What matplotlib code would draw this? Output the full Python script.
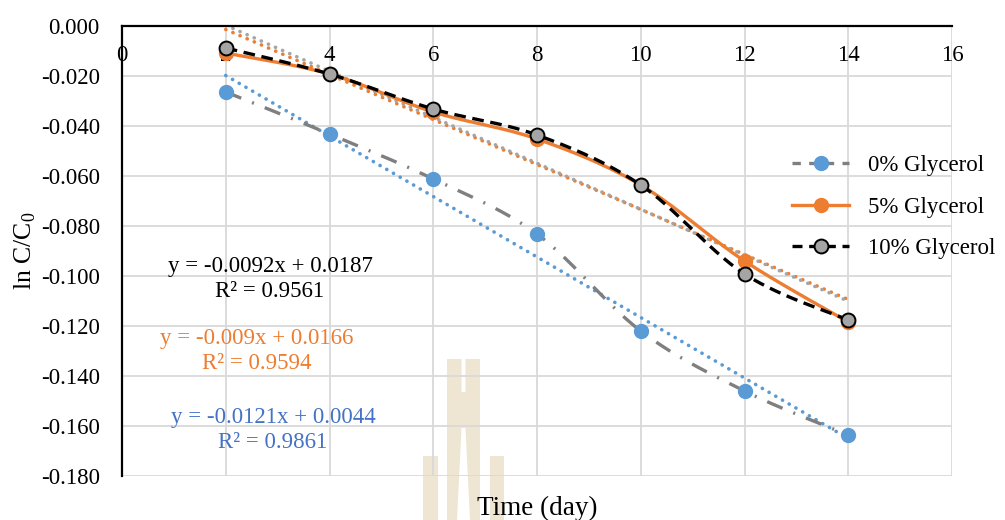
import numpy as np
import matplotlib
matplotlib.use("Agg")
import matplotlib.pyplot as plt
from matplotlib.ticker import FormatStrFormatter, MultipleLocator
from matplotlib.patches import Polygon

plt.rcParams['font.family'] = ['Liberation Serif', 'DejaVu Serif']
plt.rcParams['mathtext.fontset'] = 'custom'
plt.rcParams['mathtext.rm'] = 'Liberation Serif'
plt.rcParams['axes.unicode_minus'] = False

# ---- data ----
days = [2, 4, 6, 8, 10, 12, 14]
glycerol_0 = [-0.0264, -0.0432, -0.0612, -0.0832, -0.1220, -0.1460, -0.1636]
glycerol_5 = [-0.0108, -0.0192, -0.0344, -0.0452, -0.0636, -0.0940, -0.1184]
glycerol_10 = [-0.0088, -0.0192, -0.0332, -0.0436, -0.0636, -0.0992, -0.1176]

series_labels = ["0% Glycerol", "5% Glycerol", "10% Glycerol"]
trend_slopes = [-0.0121, -0.009, -0.0092]
trend_intercepts = [0.0044, 0.0166, 0.0187]
trend_r2 = [0.9861, 0.9594, 0.9561]
trend_texts = ["y = -0.0121x + 0.0044", "y = -0.009x + 0.0166", "y = -0.0092x + 0.0187"]

BLUE = '#5B9BD5'
ORANGE = '#ED7D31'
GRAY = '#A5A5A5'
DGRAY = '#7F7F7F'
TEXT_BLUE = '#4472C4'
FS = 16.5


def smooth_curve(x, y, n=30):
    """Cubic Bezier smoothing through every point (spreadsheet-style)."""
    p = np.column_stack([x, y]).astype(float)
    out = [p[0]]
    for i in range(len(p) - 1):
        p0 = p[i - 1] if i > 0 else p[i]
        p1, p2 = p[i], p[i + 1]
        p3 = p[i + 2] if i + 2 < len(p) else p[i + 1]
        c1 = p1 + (p2 - p0) / 6.0
        c2 = p2 - (p3 - p1) / 6.0
        t = np.linspace(0, 1, n)[1:, None]
        seg = ((1 - t) ** 3) * p1 + 3 * ((1 - t) ** 2) * t * c1 + 3 * (1 - t) * t ** 2 * c2 + t ** 3 * p2
        out.extend(seg)
    out = np.array(out)
    return out[:, 0], out[:, 1]


W, H = 1005, 520
fig = plt.figure(figsize=(W / 100, H / 100), dpi=100)
ax = fig.add_axes([122 / W, 1 - 476 / H, (952 - 122) / W, (476 - 26) / H])
ax.set_facecolor('none')


def px(x, y):
    return (x / W, 1 - y / H)


# faint emblem behind the plot
wm = '#EEE5D3'
shapes = [
    [(423, 456), (438, 456), (438, 520), (423, 520)],
    [(490, 456), (504, 456), (504, 520), (490, 520)],
    [(447, 359), (461.5, 359), (461.5, 392), (465.5, 392), (465.5, 359), (480, 359),
     (480, 520), (470, 520), (465.5, 428), (461.5, 428), (457, 520), (447, 520)],
]
for s in shapes:
    fig.patches.append(Polygon([px(*q) for q in s], closed=True, transform=fig.transFigure,
                               facecolor=wm, edgecolor='none', zorder=-5))

ax.set_xlim(0, 16)
ax.set_ylim(-0.18, 0.0)
ax.xaxis.set_major_locator(MultipleLocator(2))
ax.yaxis.set_major_locator(MultipleLocator(0.02))
ax.yaxis.set_major_formatter(FormatStrFormatter('%.3f'))
ax.grid(True, color='#D9D9D9', linewidth=1.3, zorder=0)
ax.set_axisbelow(True)

for side in ['bottom', 'right']:
    ax.spines[side].set_visible(False)
for side in ['top', 'left']:
    ax.spines[side].set_color('black')
    ax.spines[side].set_linewidth(1.6)

ax.xaxis.tick_top()
ax.tick_params(axis='x', length=0, pad=-29, labelsize=FS)
ax.tick_params(axis='y', length=0, pad=16, labelsize=FS)

# trend lines
trend_colors = [BLUE, ORANGE, GRAY]
tx = np.array([days[0], days[-1]], dtype=float)
for m, b, c in zip(trend_slopes, trend_intercepts, trend_colors):
    ax.plot(tx, m * tx + b, color=c, linewidth=2.6, linestyle=(0, (0.05, 2.1)),
            dash_capstyle='round', zorder=2)

# series
sx, sy = smooth_curve(days, glycerol_0)
ax.plot(sx, sy, color=DGRAY, linewidth=2.4, linestyle=(0, (5, 3.5, 0.6, 3.5)), zorder=3)
ax.plot(days, glycerol_0, linestyle='none', marker='o', markersize=10,
        markerfacecolor=BLUE, markeredgecolor=BLUE, zorder=4)

sx, sy = smooth_curve(days, glycerol_5)
ax.plot(sx, sy, color=ORANGE, linewidth=2.4, zorder=3)
ax.plot(days, glycerol_5, linestyle='none', marker='o', markersize=10,
        markerfacecolor=ORANGE, markeredgecolor=ORANGE, zorder=4)

sx, sy = smooth_curve(days, glycerol_10)
ax.plot(sx, sy, color='black', linewidth=2.4, linestyle=(0, (3.5, 2)), zorder=5)
ax.plot(days, glycerol_10, linestyle='none', marker='o', markersize=10,
        markerfacecolor=GRAY, markeredgecolor='black', markeredgewidth=1.4, zorder=6)

# legend handles
h0, = ax.plot([], [], color=DGRAY, linewidth=2.4, linestyle=(0, (2.5, 2.5)),
              marker='o', markersize=10, markerfacecolor=BLUE, markeredgecolor=BLUE)
h1, = ax.plot([], [], color=ORANGE, linewidth=2.4,
              marker='o', markersize=10, markerfacecolor=ORANGE, markeredgecolor=ORANGE)
h2, = ax.plot([], [], color='black', linewidth=2.4, linestyle=(0, (3, 2)),
              marker='o', markersize=10, markerfacecolor=GRAY, markeredgecolor='black',
              markeredgewidth=1.4)
leg = fig.legend([h0, h1, h2], series_labels, loc='upper left',
                 bbox_to_anchor=px(792, 155), frameon=False, fontsize=FS,
                 handlelength=2.5, handletextpad=0.8, labelspacing=0.9,
                 borderpad=0, borderaxespad=0)

# trend-line equations
eq_colors = [TEXT_BLUE, ORANGE, 'black']
eq_pos = [(273, 430), (257, 351), (270, 279)]
for t, r2, c, (x0, y0) in zip(trend_texts, trend_r2, eq_colors, eq_pos):
    fig.text(*px(x0, y0), f"{t}\nR² = {r2:.4f}", color=c, fontsize=FS,
             ha='center', va='center', multialignment='center', linespacing=1.25)

ax.set_ylabel('ln C/C$_0$', fontsize=18.5, labelpad=2)
ax.xaxis.set_label_position('bottom')
ax.set_xlabel('Time (day)', fontsize=19.5, labelpad=14)

fig.savefig('out.png', dpi=100)
